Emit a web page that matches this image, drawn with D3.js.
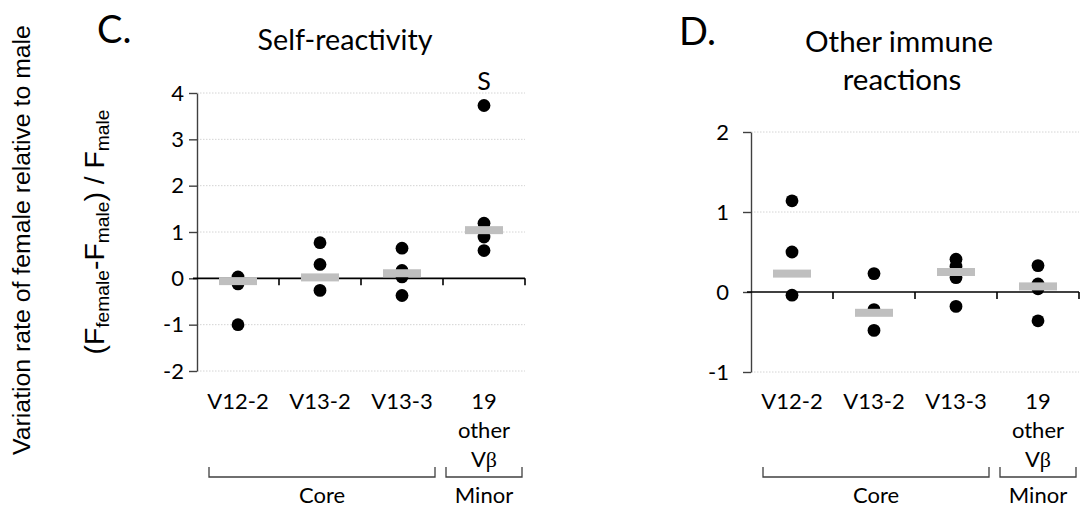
<!DOCTYPE html>
<html><head><meta charset="utf-8">
<script src="https://cdn.jsdelivr.net/npm/d3@7"></script>
<style>body{margin:0;background:#fff} svg{display:block}</style>
</head><body><svg id="chart" width="1081" height="519"></svg>
<script>
// ---- data ----
const categories = ["V12-2", "V13-2", "V13-3", "19 other Vβ"];
const tickLabelLines = [["V12-2"], ["V13-2"], ["V13-3"], ["19", "other", "Vβ"]];
const groupNames = ["Core", "Minor"];
const groupRanges = [[0, 2], [3, 3]];

const selfValues = [
  [0.03, -0.12, -1.0],
  [0.77, 0.30, -0.26],
  [0.65, 0.17, 0.03, -0.37],
  [3.73, 1.19, 0.89, 0.60]
];
const selfMedians = [-0.06, 0.02, 0.11, 1.04];
const selfTicks = [-2, -1, 0, 1, 2, 3, 4];

const otherValues = [
  [1.14, 0.50, -0.04],
  [0.23, -0.22, -0.48],
  [0.41, 0.32, 0.18, -0.18],
  [0.33, 0.10, 0.04, -0.36]
];
const otherMedians = [0.23, -0.26, 0.25, 0.07];
const otherTicks = [-1, 0, 1, 2];

// ---- drawing ----
const svg = d3.select("#chart");
const CAL = "Lato, 'Noto Sans', sans-serif";
const ARIAL = "'Liberation Sans', Arial, sans-serif";
const TICK_FS = 22;

function fit(sel, w) {
  const cur = sel.node().getComputedTextLength();
  const fs = parseFloat(sel.attr("font-size"));
  sel.attr("font-size", fs * w / cur);
  return fs * w / cur;
}

function drawPanel(p) {
  const x = d3.scaleBand().domain(categories).range([p.x0, p.x1]);
  const y = d3.scaleLinear().domain([p.ticks[0], p.ticks[p.ticks.length - 1]]).range([p.yBottom, p.yTop]);
  const g = svg.append("g");

  // gridlines
  g.selectAll("line.grid").data(p.ticks.filter(t => t !== 0)).join("line")
    .attr("x1", p.x0).attr("x2", p.x1)
    .attr("y1", d => y(d)).attr("y2", d => y(d))
    .attr("stroke", "#d4d4d4").attr("stroke-width", 1).attr("stroke-dasharray", "1.5,1.5");

  // y axis
  const ya = g.append("g").attr("transform", `translate(${p.x0},0)`)
    .call(d3.axisLeft(y).tickValues(p.ticks).tickSize(8).tickSizeOuter(0)
      .tickPadding(p.pad).tickFormat(d => String(d)));
  ya.select(".domain").attr("stroke", "#404040").attr("stroke-width", 1.4);
  ya.selectAll(".tick line").attr("stroke", "#404040").attr("stroke-width", 1.4);
  ya.selectAll(".tick text").attr("font-family", CAL).attr("font-size", TICK_FS).attr("fill", "#000");

  // x axis at zero with boundary ticks
  const y0 = y(0);
  g.append("line").attr("x1", p.x0 - 4).attr("x2", p.x1).attr("y1", y0).attr("y2", y0)
    .attr("stroke", "#000").attr("stroke-width", 1.6);
  g.selectAll("line.xt").data(categories).join("line")
    .attr("x1", d => x(d) + x.bandwidth()).attr("x2", d => x(d) + x.bandwidth())
    .attr("y1", y0).attr("y2", y0 + 7)
    .attr("stroke", "#000").attr("stroke-width", 1.6);

  // category labels
  tickLabelLines.forEach((lines, i) => {
    const t = g.append("text").attr("x", x(categories[i]) + x.bandwidth() / 2).attr("y", 409)
      .attr("text-anchor", "middle").attr("font-family", CAL).attr("font-size", TICK_FS).attr("fill", "#000");
    lines.forEach((ln, j) => {
      const ts = t.append("tspan").attr("x", x(categories[i]) + x.bandwidth() / 2).attr("dy", j === 0 ? 0 : 29);
      if (ln === "Vβ") {
        ts.text("V");
        ts.append("tspan").attr("font-family", "'Liberation Serif', serif").text("β");
      } else ts.text(ln);
    });
  });

  // brackets
  groupRanges.forEach((r, i) => {
    const a = x(categories[r[0]]) + (i === 0 ? 12 : 3);
    const b = x(categories[r[1]]) + x.bandwidth() - (i === 0 ? 8 : 3);
    g.append("path").attr("d", `M${a},467V477H${b}V467`)
      .attr("fill", "none").attr("stroke", "#404040").attr("stroke-width", 1.3);
    g.append("text").attr("x", (a + b) / 2).attr("y", 503).attr("text-anchor", "middle")
      .attr("font-family", CAL).attr("font-size", TICK_FS).attr("fill", "#000").text(groupNames[i]);
  });

  // points
  p.values.forEach((vals, i) => {
    g.selectAll(null).data(vals).join("circle")
      .attr("cx", x(categories[i]) + x.bandwidth() / 2).attr("cy", d => y(d))
      .attr("r", 6.4).attr("fill", "#000");
  });
  // medians
  g.selectAll("rect.med").data(p.medians).join("rect")
    .attr("x", (d, i) => x(categories[i]) + x.bandwidth() / 2 - 19)
    .attr("y", d => y(d) - 4).attr("width", 38).attr("height", 8).attr("fill", "#bfbfbf");
  return {x, y};
}

const C = drawPanel({x0: 197, x1: 525, yTop: 93, yBottom: 371, ticks: selfTicks, pad: 5, values: selfValues, medians: selfMedians});
const D = drawPanel({x0: 751, x1: 1079, yTop: 132, yBottom: 372, ticks: otherTicks, pad: 14, values: otherValues, medians: otherMedians});

// significance label
svg.append("text").attr("x", C.x(categories[3]) + C.x.bandwidth() / 2).attr("y", 90)
  .attr("text-anchor", "middle").attr("font-family", CAL).attr("font-size", 25).text("S");

// panel letters & titles
svg.append("text").attr("x", 97).attr("y", 43).attr("font-family", CAL).attr("font-size", 38).text("C.");
svg.append("text").attr("x", 679).attr("y", 45).attr("font-family", CAL).attr("font-size", 38).text("D.");
const t1 = svg.append("text").attr("x", 345).attr("y", 50).attr("text-anchor", "middle")
  .attr("font-family", CAL).attr("font-size", 24).text("Self-reactivity");
fit(t1, 175);
const t2 = svg.append("text").attr("x", 899).attr("y", 52).attr("text-anchor", "middle")
  .attr("font-family", CAL).attr("font-size", 24).text("Other immune");
const fs2 = fit(t2, 188);
svg.append("text").attr("x", 902).attr("y", 90).attr("text-anchor", "middle")
  .attr("font-family", CAL).attr("font-size", fs2).text("reactions");

// y-axis titles
const yl1 = svg.append("text").attr("transform", "translate(30,240) rotate(-90)")
  .attr("text-anchor", "middle").attr("font-family", ARIAL).attr("font-size", 24).attr("fill", "#000")
  .text("Variation rate of female relative to male");
fit(yl1, 430);
const yl2 = svg.append("text").attr("transform", "translate(104,232) rotate(-90)")
  .attr("text-anchor", "middle").attr("font-family", ARIAL).attr("font-size", 27).attr("fill", "#000");
yl2.append("tspan").text("(F");
yl2.append("tspan").attr("font-size", "0.68em").attr("dy", 5).text("female");
yl2.append("tspan").attr("dy", -5).text("-F");
yl2.append("tspan").attr("font-size", "0.68em").attr("dy", 5).text("male");
yl2.append("tspan").attr("dy", -5).text(") / F");
yl2.append("tspan").attr("font-size", "0.68em").attr("dy", 5).text("male");
fit(yl2, 245);
</script></body></html>
